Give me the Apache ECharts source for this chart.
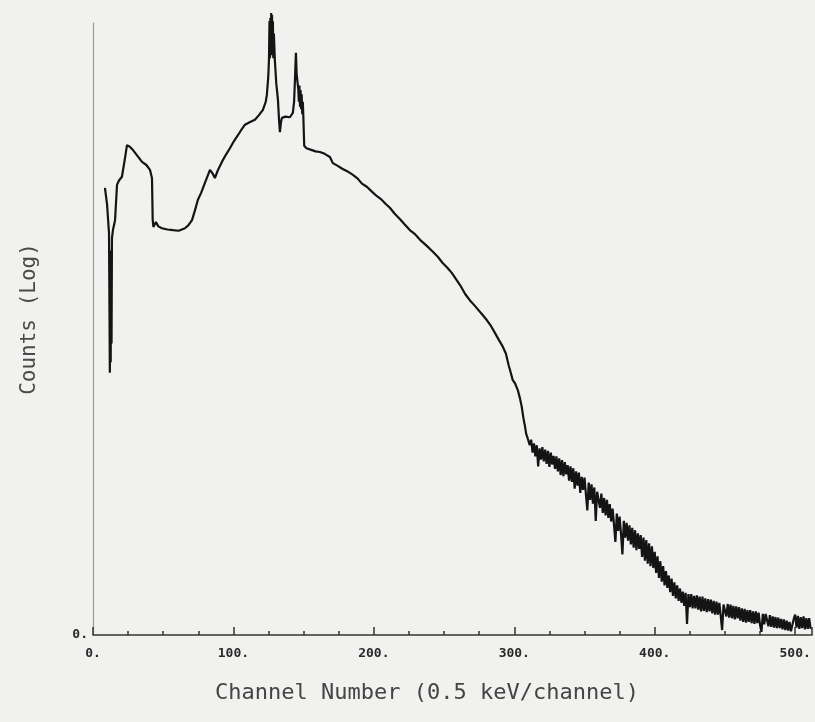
<!DOCTYPE html>
<html>
<head>
<meta charset="utf-8">
<script src="https://cdn.jsdelivr.net/npm/echarts@6/dist/echarts.min.js"></script>
<style>
html,body{margin:0;padding:0;background:#f1f1ef;}
#chart{width:815px;height:722px;}
</style>
</head>
<body>
<div id="chart"></div>
<script>
// Smooth part of the spectrum: channel numbers and log-count heights (arbitrary log units)
var headChannels = [8.5,10.0,11.4,11.8,12.0,12.3,12.6,12.9,13.2,13.5,14.2,15.7,17.1,18.5,20.6,22.5,24.2,26.0,28.5,31.5,34.9,38.0,40.6,42.0,42.5,43.0,44.8,46.5,49.1,53.0,56.9,61.0,65.5,68.0,70.5,72.5,74.7,77.0,79.7,83.3,85.0,86.8,89.0,91.8,94.5,97.5,100.5,103.2,106.0,108.2,111.5,115.3,118.0,121.0,123.0,123.8,124.8,125.3,125.7,126.0,126.3,126.6,126.9,127.2,127.5,127.8,128.1,128.4,128.8,129.5,130.5,131.7,132.5,133.1,133.8,134.5,137.0,140.2,142.3,143.2,143.8,144.5,145.0,145.6,146.2,146.6,147.0,147.4,147.8,148.2,148.6,149.0,149.4,149.8,150.4,152.0,155.9,158.5,161.6,165.0,168.7,170.8,174.0,177.5,181.0,185.1,188.5,191.5,195.0,198.6,202.0,205.5,208.5,211.4,215.0,218.5,222.0,225.6,229.5,233.5,237.5,242.0,245.5,249.0,252.5,255.5,258.5,261.5,265.0,268.3,271.5,274.5,277.5,280.4,283.5,286.5,289.0,291.8,294.0,296.0,297.5,298.9,300.5,302.5,304.0,305.3,306.5,307.5,308.5,309.3];
var headCounts = [72.1,69.5,64.8,50.0,42.3,58.0,44.0,62.0,47.0,64.0,65.3,66.9,72.6,73.3,73.9,76.5,79.0,78.8,78.2,77.3,76.3,75.8,75.0,73.7,67.0,65.8,66.6,65.9,65.6,65.4,65.3,65.2,65.6,66.1,66.9,68.4,70.2,71.3,72.9,75.0,74.5,73.7,75.0,76.3,77.4,78.5,79.7,80.6,81.6,82.3,82.7,83.1,83.8,84.7,86.0,87.1,90.0,92.7,99.0,93.0,99.5,93.5,100.3,94.0,100.0,93.5,99.0,93.0,97.0,92.7,89.0,86.3,83.0,81.1,82.6,83.4,83.6,83.5,84.2,86.0,89.5,93.9,90.5,89.2,88.0,86.0,88.6,85.2,87.9,84.8,87.2,84.0,86.0,83.5,78.9,78.5,78.2,78.0,77.9,77.6,77.1,76.1,75.7,75.2,74.8,74.2,73.6,72.8,72.3,71.5,70.8,70.2,69.5,68.9,67.9,67.1,66.2,65.3,64.6,63.6,62.8,61.8,61.0,60.0,59.2,58.4,57.4,56.4,55.0,54.0,53.2,52.4,51.6,50.8,49.8,48.6,47.6,46.5,45.4,43.5,42.3,41.1,40.6,39.5,38.2,36.8,35.0,33.8,32.4,31.9];

// Noisy tail: one value per channel, starting at channel 310
var tailStart = 310;
var tailCounts = [
  32.0,30.6,31.5,29.4,30.9,28.8,30.6,27.2,30.1,28.3,
  30.3,28.0,29.9,27.6,29.7,27.1,29.4,27.5,28.9,26.8,
  28.8,26.4,28.5,25.8,28.2,25.6,27.9,25.9,27.4,24.9,
  27.2,24.7,26.9,23.6,26.4,24.1,26.2,22.9,25.5,23.4,
  25.4,22.7,20.1,24.6,21.8,24.3,21.2,23.8,18.4,23.1,
  23.1,20.5,22.8,19.7,22.1,19.3,21.8,18.9,21.1,18.3,
  20.4,17.8,15.0,19.6,16.8,19.1,16.3,13.0,18.4,15.7,
  18.1,15.2,17.7,14.6,17.3,14.1,16.9,13.7,16.4,13.9,
  16.1,12.6,15.7,12.0,15.3,11.5,14.8,11.1,14.3,10.8,
  13.4,10.0,12.7,9.2,11.9,8.6,11.1,8.0,10.3,7.6,
  9.6,6.9,9.1,6.3,8.5,5.9,8.0,5.5,7.5,5.2,
  7.0,4.7,6.8,1.8,6.6,4.5,6.6,4.3,6.3,4.3,
  6.4,4.1,6.2,3.8,6.2,3.9,5.9,3.7,5.8,3.8,
  5.7,3.5,5.5,3.3,5.4,3.3,5.2,3.1,0.8,4.9,
  5.2,3.0,5.0,2.8,4.9,2.7,4.7,2.5,4.6,2.7,
  4.5,2.3,4.3,2.1,4.2,2.0,4.0,2.1,4.0,1.9,
  3.8,1.8,3.8,1.9,3.6,1.6,0.5,3.4,1.7,3.4,
  3.3,1.4,3.2,1.3,3.0,1.2,2.9,1.1,2.8,1.1,
  2.6,0.9,2.5,0.8,2.3,0.7,2.1,0.6,0.4,2.6,
  3.3,1.2,3.1,1.0,2.9,1.1,3.0,0.9,2.7,1.0,2.7,1.0
];

var xTicks = [0,100,200,300,400,500];
var xName = 'Channel Number (0.5 keV/channel)';
var yName = 'Counts (Log)';

var data = [];
for (var i = 0; i < headChannels.length; i++) data.push([headChannels[i], headCounts[i]]);
for (var j = 0; j < tailCounts.length; j++) data.push([tailStart + j, tailCounts[j]]);

var chart = echarts.init(document.getElementById('chart'), null, {renderer:'canvas'});
chart.setOption({
  animation: false,
  backgroundColor: '#f1f1ef',
  grid: {left: 93, right: 3, top: 23, bottom: 87},
  graphic: [
    {type: 'text', x: 427, y: 693, style: {text: xName, font: '22px "DejaVu Sans Mono"', fill: '#444', align: 'center', verticalAlign: 'middle', textAlign: 'center', textVerticalAlign: 'middle'}},
    {type: 'text', x: 30, y: 319, rotation: Math.PI / 2, style: {text: yName, font: '21px "DejaVu Sans Mono"', fill: '#4a4a4a', align: 'center', verticalAlign: 'middle', textAlign: 'center', textVerticalAlign: 'middle'}}
  ],
  xAxis: {
    type: 'value', min: 0, max: 512, interval: 100,
    axisLine: {show: true, lineStyle: {color: '#333', width: 1.5}},
    axisTick: {show: true, inside: true, length: 8, lineStyle: {color: '#333', width: 1.5}},
    minorTick: {show: true, splitNumber: 4, length: 4, lineStyle: {color: '#333', width: 1.5}},
    splitLine: {show: false},
    axisLabel: {
      margin: 12, color: '#2a2a2a', fontFamily: 'DejaVu Sans Mono', fontSize: 13, fontWeight: 'bold',
      formatter: function (v) { return xTicks.indexOf(v) >= 0 ? v + '.' : ''; },
      showMaxLabel: false
    }
  },
  yAxis: {
    type: 'value', min: 0, max: 98.7, interval: 200, offset: 4,
    axisLine: {show: true, lineStyle: {color: '#9a9a9a', width: 1.2}},
    axisTick: {show: false},
    splitLine: {show: false},
    axisLabel: {
      margin: 1, color: '#2a2a2a', fontFamily: 'DejaVu Sans Mono', fontSize: 13, fontWeight: 'bold',
      formatter: function (v) { return v === 0 ? '0.' : ''; }, showMaxLabel: false
    }
  },
  series: [{
    type: 'line', data: data, showSymbol: false, clip: false,
    lineStyle: {color: '#141414', width: 2.2}
  }]
});
</script>
</body>
</html>
